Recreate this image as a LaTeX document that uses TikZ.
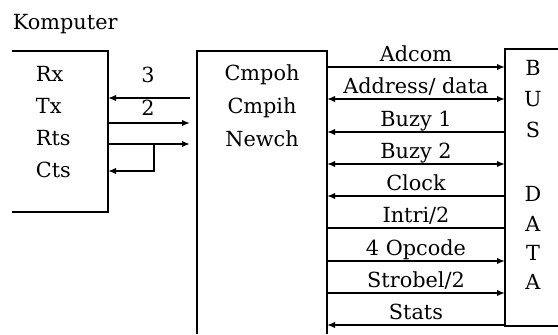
\documentclass[tikz,border=0pt]{standalone}
\usepackage{fontspec}
\setmainfont{DejaVu Serif}
\usetikzlibrary{arrows.meta}
\tikzset{iface/.style={x=0.5pt,y=-0.5pt,font=\fontsize{10.4}{12}\selectfont,line width=0.95pt,>={Latex[length=4pt,width=3.2pt]}},
  blk/.style={inner sep=0,outer sep=0,anchor=north west},
  txt/.style={anchor=base west,inner sep=0},
  lbl/.style={anchor=base,inner sep=0,yshift=2.8pt}}

\begin{document}
\begin{tikzpicture}[iface]
    \useasboundingbox (0,0) rectangle (558,334);
    \node[blk,minimum width=48pt,minimum height=80.5pt] (komp) at (12,51) {};
    \node[blk,minimum width=65pt,minimum height=141.5pt] (cmp) at (197,51) {};
    \node[blk,minimum width=26.5pt,minimum height=138.5pt] (bus) at (505,49) {};
    \draw (komp.north west) -- (komp.north east) -- (komp.south east) -- (komp.south west);   % open left
    \draw (cmp.south west) -- (cmp.north west) -- (cmp.north east) -- (cmp.south east);       % open bottom
    \draw (bus.north east) -- (bus.north west) -- (bus.south west) -- (bus.south east);       % open right
    \node[txt] (title) at (12,29) {Komputer};
    \foreach \t [count=\i from 0] in {Rx,Tx,Rts,Cts} \node[txt] (k\i) at (35,{81+32*\i}) {\t};
    \foreach \t [count=\i from 0] in {Cmpoh,Cmpih,Newch} \node[anchor=base] (c\i) at (262,{80+33*\i}) {\t};
    \foreach \t/\y [count=\i] in {B/68,U/99,S/130,D/194,A/224,T/253,A/282} \node (b\i) at (533,\y) {\t};
    % serial lines
    \draw[<-,shorten >=3.5pt] (komp.east |- 0,98) -- node[lbl,pos=.45,yshift=5.2pt] (w3) {3} (cmp.west |- 0,98);
    \draw[->,shorten >=3.5pt] (komp.east |- 0,123) -- node[lbl,pos=.45,yshift=1.2pt] (w2) {2} (cmp.west |- 0,123);
    \draw[->,shorten >=3.5pt] (komp.east |- 0,144) -- (cmp.west |- 0,144);
    \coordinate (rts) at (154,144);
    \draw[->] (rts) |- (komp.east |- 0,171);
    % bus signals
    \draw[->]  (cmp.east |- 0,67)  -- node[lbl] (s1) {Adcom} (bus.west |- 0,67);
    \draw[<->] (cmp.east |- 0,99)  -- node[lbl] (s2) {Address/ data} (bus.west |- 0,99);
    \draw[<-]  (cmp.east |- 0,132) -- node[lbl] (s3) {Buzy 1} (bus.west |- 0,132);
    \draw[<->] (cmp.east |- 0,164) -- node[lbl] (s4) {Buzy 2} (bus.west |- 0,164);
    \draw[<-]  (cmp.east |- 0,196) -- node[lbl] (s5) {Clock} (bus.west |- 0,196);
    \draw      (cmp.east |- 0,228) -- node[lbl] (s6) {Intri/2} (bus.west |- 0,228);
    \draw[->]  (cmp.east |- 0,261) -- node[lbl] (s7) {4 Opcode} (bus.west |- 0,261);
    \draw[->]  (cmp.east |- 0,293) -- node[lbl] (s8) {Strobel/2} (bus.west |- 0,293);
    \draw[<-]  (cmp.east |- 0,325) -- node[lbl] (s9) {Stats} (bus.west |- 0,325);
\end{tikzpicture}
\end{document}
